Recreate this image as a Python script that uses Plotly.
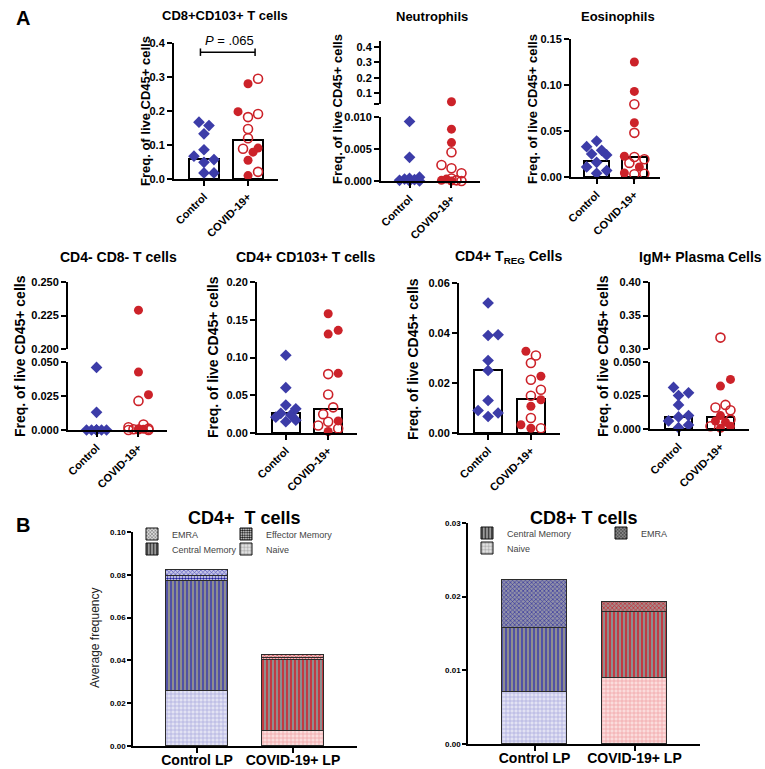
import math
import plotly.graph_objects as go

W, H = 765, 769
FONT = "Liberation Sans, Arial, Helvetica, sans-serif"
BLUE = "#3c3ca8"
RED = "#cc2229"

groups = ["Control", "COVID-19+"]
lp_groups = ["Control LP", "COVID-19+ LP"]

# ---------------- Panel A data (freq. of live CD45+ cells) ----------------
cd8cd103_control = [0.167, 0.157, 0.133, 0.086, 0.067, 0.057, 0.049, 0.018, 0.018]
cd8cd103_covid_filled = [0.280, 0.198, 0.091, 0.079, 0.055, 0.010]
cd8cd103_covid_open = [0.295, 0.191, 0.182, 0.147, 0.120, 0.089, 0.021]
cd8cd103_bars = [0.059, 0.116]

neut_control = [0.0093, 0.0037, 0.0006, 0.0004, 0.0003, 0.0002, 0.0001, 0.0, 0.0]
neut_covid_filled = [0.043, 0.0081, 0.0060, 0.0003, 0.0001, 0.0]
neut_covid_open = [0.0045, 0.0025, 0.0020, 0.0012, 0.0004, 0.0001, 0.0]

eos_control = [0.039, 0.033, 0.029, 0.025, 0.024, 0.016, 0.011, 0.007, 0.004]
eos_covid_filled = [0.125, 0.093, 0.059, 0.0225, 0.011, 0.0044]
eos_covid_open = [0.079, 0.048, 0.0218, 0.0193, 0.0153, 0.0036, 0.003]
eos_bars = [0.017, 0.0218]

dn_control = [0.046, 0.013, 0.0, 0.0, 0.0, 0.0, 0.0, 0.0, 0.0]
dn_covid_filled = [0.229, 0.0426, 0.0259, 0.001, 0.0005, 0.0]
dn_covid_open = [0.0214, 0.004, 0.002, 0.001, 0.0005, 0.0, 0.0]

cd4cd103_control = [0.103, 0.060, 0.037, 0.032, 0.026, 0.024, 0.021, 0.017, 0.015]
cd4cd103_covid_filled = [0.158, 0.136, 0.131, 0.079, 0.016, 0.002]
cd4cd103_covid_open = [0.078, 0.051, 0.034, 0.025, 0.015, 0.010, 0.006]
cd4cd103_bars = [0.026, 0.032]

treg_control = [0.052, 0.0393, 0.039, 0.029, 0.025, 0.013, 0.009, 0.008, 0.0066]
treg_covid_filled = [0.0327, 0.0227, 0.0133, 0.0107, 0.0033, 0.0019]
treg_covid_open = [0.031, 0.028, 0.0213, 0.0173, 0.0149, 0.006, 0.0019]
treg_bars = [0.0253, 0.0137]

igm_control = [0.031, 0.027, 0.025, 0.018, 0.010, 0.009, 0.006, 0.003, 0.001]
igm_covid_filled = [0.037, 0.032, 0.010, 0.006, 0.005, 0.002, 0.0005]
igm_covid_open = [0.317, 0.018, 0.016, 0.014, 0.007, 0.002]
igm_bars = [0.009, 0.009]

p_value_text = "<i>P</i> = .065"

# ---------------- Panel B data (average frequency) ----------------
cd4_subsets = ["Naive", "Central Memory", "Effector Memory", "EMRA"]
cd4_control = [0.0258, 0.0511, 0.0026, 0.0027]
cd4_covid = [0.0069, 0.0331, 0.00125, 0.00125]

cd8_subsets = ["Naive", "Central Memory", "EMRA"]
cd8_control = [0.0071, 0.0086, 0.0066]
cd8_covid = [0.0090, 0.0089, 0.0014]

# ---------------- helpers ----------------
fig = go.Figure()
layout = {}
annotations = []
shapes = []
_count = [0]


def new_axes():
    _count[0] += 1
    return _count[0]


def xname(n):
    return "xaxis" if n == 1 else f"xaxis{n}"


def yname(n):
    return "yaxis" if n == 1 else f"yaxis{n}"


def xref(n):
    return "x" if n == 1 else f"x{n}"


def yref(n):
    return "y" if n == 1 else f"y{n}"


def dom_x(a, b):
    return [a / W, b / W]


def dom_y(top, bot):
    return [1 - bot / H, 1 - top / H]


def bold(size):
    return dict(family=FONT, size=size, color="black", weight="bold")


def swarm(vals, ppu, diam=9.0, step=5.0, max_px=10.0):
    order = sorted(range(len(vals)), key=lambda i: vals[i])
    cands = [0.0]
    k = 1
    while k * step <= max_px + 1e-9:
        cands += [k * step, -k * step]
        k += 1
    placed, offs = [], [0.0] * len(vals)
    for i in order:
        y = vals[i] * ppu
        chosen, best_x, best_d = None, 0.0, -1.0
        for c in cands:
            d = min((math.hypot(c - px, y - py) for px, py in placed), default=1e9)
            if d >= diam:
                chosen = c
                break
            if d > best_d:
                best_d, best_x = d, c
        if chosen is None:
            chosen = best_x
        placed.append((chosen, y))
        offs[i] = chosen
    return offs


def ann(text, px, py, size, angle=0, b=True, color="black", xanchor="center"):
    annotations.append(dict(
        text=(f"<b>{text}</b>" if b else text), x=px / W, y=1 - py / H,
        xref="paper", yref="paper", showarrow=False, textangle=angle,
        xanchor=xanchor, yanchor="middle",
        font=dict(family=FONT, size=size, color=color)))


AX = dict(showline=True, linecolor="black", linewidth=2, ticks="outside",
          ticklen=5, tickwidth=2, tickcolor="black", showgrid=False,
          zeroline=False, automargin=False, fixedrange=True)

MARK = {
    "c": dict(symbol="diamond", size=9, color=BLUE, line=dict(width=0)),
    "f": dict(symbol="circle", size=9, color=RED, line=dict(width=0)),
    "o": dict(symbol="circle-open", size=9, color=RED, line=dict(width=1.6)),
}

XR = [-0.68, 1.68]

panels = [
    dict(title="CD8+CD103+ T cells", ctrl=cd8cd103_control, filled=cd8cd103_covid_filled,
         opn=cd8cd103_covid_open, bars=cd8cd103_bars, x=(174, 278),
         low=(43, 179, 0, 0.4, 0.1, ".1f"), up=None, title_xy=(225, 15), ylab_xy=(146, 111),
         tfs=13, yfs=13),
    dict(title="Neutrophils", ctrl=neut_control, filled=neut_covid_filled,
         opn=neut_covid_open, bars=None, x=(381, 480),
         low=(117, 181, 0, 0.010, 0.005, ".3f"),
         up=(41, 104, 0.028, 0.44, [0.028, 0.1, 0.2, 0.3, 0.4], ["", "0.1", "0.2", "0.3", "0.4"]),
         title_xy=(432, 17), ylab_xy=(337, 109), tfs=13, yfs=13),
    dict(title="Eosinophils", ctrl=eos_control, filled=eos_covid_filled,
         opn=eos_covid_open, bars=eos_bars, x=(571, 660),
         low=(39, 177, 0, 0.15, 0.05, ".2f"), up=None, title_xy=(618, 17), ylab_xy=(532, 109),
         tfs=13, yfs=13),
    dict(title="CD4- CD8- T cells", ctrl=dn_control, filled=dn_covid_filled,
         opn=dn_covid_open, bars=None, x=(68, 167),
         low=(362, 430, 0, 0.05, 0.025, ".3f"),
         up=(282, 349, 0.2, 0.25, [0.2, 0.225, 0.25], ["0.200", "0.225", "0.250"]),
         title_xy=(118, 257), ylab_xy=(20, 356), tfs=14, yfs=14),
    dict(title="CD4+ CD103+ T cells", ctrl=cd4cd103_control, filled=cd4cd103_covid_filled,
         opn=cd4cd103_covid_open, bars=cd4cd103_bars, x=(257, 357),
         low=(282, 433, 0, 0.2, 0.05, ".2f"), up=None, title_xy=(306, 257), ylab_xy=(213, 357),
         tfs=14, yfs=14),
    dict(title="CD4+ T<sub>REG</sub> Cells", ctrl=treg_control, filled=treg_covid_filled,
         opn=treg_covid_open, bars=treg_bars, x=(459, 560),
         low=(283, 433, 0, 0.06, 0.02, ".2f"), up=None, title_xy=(508, 257), ylab_xy=(413, 359),
         tfs=14, yfs=14),
    dict(title="IgM+ Plasma Cells", ctrl=igm_control, filled=igm_covid_filled,
         opn=igm_covid_open, bars=igm_bars, x=(650, 749),
         low=(362, 429, 0, 0.05, 0.025, ".3f"),
         up=(282, 349, 0.3, 0.4, [0.3, 0.35, 0.4], ["0.30", "0.35", "0.40"]),
         title_xy=(700, 257), ylab_xy=(603, 356), tfs=14, yfs=14),
]

first_panel_axes = None
for p in panels:
    x0, x1 = p["x"]
    pxcat = (x1 - x0) / (XR[1] - XR[0])
    yt, yb, lo, hi, dt, fmt = p["low"]
    nl = new_axes()
    if first_panel_axes is None:
        first_panel_axes = nl
    layout[xname(nl)] = dict(domain=dom_x(x0, x1), range=XR, anchor=yref(nl),
                             tickvals=[0, 1], ticktext=groups, tickangle=-45,
                             tickfont=bold(11), **AX)
    layout[yname(nl)] = dict(domain=dom_y(yt, yb), range=[lo, hi], dtick=dt, tick0=0,
                             tickformat=fmt, anchor=xref(nl), tickfont=bold(11), **AX)
    segs = [(nl, (yb - yt) / (hi - lo))]
    if p["up"]:
        ut, ub, ulo, uhi, tv, tt = p["up"]
        nu = new_axes()
        layout[xname(nu)] = dict(domain=dom_x(x0, x1), range=XR, anchor=yref(nu),
                                 visible=False, fixedrange=True)
        layout[yname(nu)] = dict(domain=dom_y(ut, ub), range=[ulo, uhi], tickvals=tv,
                                 ticktext=tt, anchor=xref(nu), tickfont=bold(11), **AX)
        segs.append((nu, (ub - ut) / (uhi - ulo)))

    if p["bars"]:
        fig.add_trace(go.Bar(x=[0, 1], y=p["bars"], width=0.66,
                             marker=dict(color="white", line=dict(color="black", width=2)),
                             xaxis=xref(nl), yaxis=yref(nl), showlegend=False,
                             hoverinfo="skip"))

    point_groups = [
        (0, p["ctrl"], ["c"] * len(p["ctrl"])),
        (1, p["filled"] + p["opn"], ["f"] * len(p["filled"]) + ["o"] * len(p["opn"])),
    ]
    for gi, vals, kinds in point_groups:
        for si, (n, ppu) in enumerate(segs):
            idx = [i for i, v in enumerate(vals)
                   if (si == 1) == (len(segs) > 1 and v > hi)]
            if not idx:
                continue
            sv = [vals[i] for i in idx]
            offs = swarm(sv, ppu)
            for kind in ["c", "o", "f"]:
                sel = [j for j, i in enumerate(idx) if kinds[i] == kind]
                if not sel:
                    continue
                fig.add_trace(go.Scatter(
                    x=[gi + offs[j] / pxcat for j in sel], y=[sv[j] for j in sel],
                    mode="markers", marker=MARK[kind], cliponaxis=False,
                    xaxis=xref(n), yaxis=yref(n), showlegend=False, hoverinfo="skip"))

    ann(p["title"], p["title_xy"][0], p["title_xy"][1], p["tfs"])
    ann("Freq. of live CD45+ cells", p["ylab_xy"][0], p["ylab_xy"][1], p["yfs"], angle=-90)

# significance bracket on first panel
n1 = first_panel_axes
br_y, br_h = 0.373, 0.011
shapes.append(dict(type="line", xref=xref(n1), yref=yref(n1), x0=-0.08, x1=1.16,
                   y0=br_y, y1=br_y, line=dict(color="black", width=1.5)))
for bx in (-0.08, 1.16):
    shapes.append(dict(type="line", xref=xref(n1), yref=yref(n1), x0=bx, x1=bx,
                       y0=br_y - br_h, y1=br_y + br_h, line=dict(color="black", width=1.5)))
ann(p_value_text, 229, 41, 13, b=False)

# ---------------- Panel B ----------------
# per subset: (shape, size, solidity, (fg control, fg covid), (bg control, bg covid), legend fg, legend bg)
PAT = {
    "Naive": ("+", 4, 0.3, ("#a6a6dc", "#ef9ca0"), ("#e2e2f3", "#fbdcdc"), "#8c8c8c", "#e4e4e4"),
    "Central Memory": ("|", 4, 0.45, ("#4a4aa8", "#c8303a"), ("#8e8e8e", "#8e8e8e"), "#3a3a3a", "#9a9a9a"),
    "Effector Memory": (".", 3, 0.6, ("#1e1e9c", "#c8202a"), ("#ffffff", "#ffffff"), "#111111", "#ffffff"),
    "EMRA": ("x", 3, 0.35, ("#4848b8", "#c03038"), ("#c4c4e6", "#eebcbc"), "#555555", "#dddddd"),
    "EMRA8": ("x", 3, 0.4, ("#3838a0", "#c42630"), ("#9090a8", "#a88888"), "#333333", "#8a8a8a"),
}
OUTLINE = dict(color="#2b2b2b", width=1.5)


def stacked(box, xrange_, yrange_, dtick, subsets, ctrl, covid, emra_key, title, title_xy):
    x0, x1, yt, yb = box
    n = new_axes()
    layout[xname(n)] = dict(domain=dom_x(x0, x1), range=xrange_, anchor=yref(n),
                            tickvals=[0, 1], ticktext=lp_groups, tickfont=bold(14),
                            ticklabelstandoff=-5,
                            **{**AX, "linewidth": 1.5, "tickwidth": 1.5})
    layout[yname(n)] = dict(domain=dom_y(yt, yb), range=yrange_, dtick=dtick, tick0=0,
                            tickformat=".2f", anchor=xref(n), tickfont=bold(8),
                            **{**AX, "linewidth": 1.5, "tickwidth": 1.5, "ticklen": 4})
    for i, s in enumerate(subsets):
        shp, size, sol, fgs, bgs, _, _ = PAT[emra_key if s == "EMRA" else s]
        for gi, vals in enumerate((ctrl, covid)):
            fig.add_trace(go.Bar(
                x=[gi], y=[vals[i]], width=0.65, name=s,
                marker=dict(color=bgs[gi], line=OUTLINE,
                            pattern=dict(shape=shp, size=size, solidity=sol,
                                         fgcolor=fgs[gi], bgcolor=bgs[gi], fillmode="replace")),
                xaxis=xref(n), yaxis=yref(n), showlegend=False, hoverinfo="skip"))
    ann(title, title_xy[0], title_xy[1], 18)
    return n


n_cd4 = stacked((133, 357, 532, 746), [-0.667, 1.667], [0, 0.1], 0.02,
                cd4_subsets, cd4_control, cd4_covid, "EMRA", "CD4+  T cells", (245, 518))
n_cd8 = stacked((468, 700, 523, 744), [-0.665, 1.655], [0, 0.03], 0.01,
                cd8_subsets, cd8_control, cd8_covid, "EMRA8", "CD8+ T cells", (584, 518))
layout["barmode"] = "stack"

ann("Average frequency", 95, 638, 12, angle=-90, b=False, color="#222")

# legends: one per entry so each can sit where the original has it
legend_items = [
    ("EMRA", "EMRA", n_cd4, 152, 534),
    ("Central Memory", "Central Memory", n_cd4, 152, 549),
    ("Effector Memory", "Effector Memory", n_cd4, 246, 534),
    ("Naive", "Naive", n_cd4, 246, 549),
    ("Central Memory", "Central Memory", n_cd8, 487, 533),
    ("Naive", "Naive", n_cd8, 487, 548),
    ("EMRA", "EMRA8", n_cd8, 621, 533),
]
for k, (label, key, n, lx, ly) in enumerate(legend_items):
    lname = "legend" if k == 0 else f"legend{k + 1}"
    shp, size, sol, _, _, lfg, lbg = PAT[key]
    fig.add_trace(go.Bar(
        x=[None], y=[None], name=label, legend=lname,
        marker=dict(color=lbg, line=dict(color="#111", width=1),
                    pattern=dict(shape=shp, size=size, solidity=sol,
                                 fgcolor=lfg, bgcolor=lbg, fillmode="replace")),
        xaxis=xref(n), yaxis=yref(n), showlegend=True, hoverinfo="skip"))
    layout[lname] = dict(x=(lx - 20) / W, y=1 - ly / H, xanchor="left", yanchor="middle",
                         bgcolor="rgba(0,0,0,0)", borderwidth=0, traceorder="normal",
                         font=dict(family=FONT, size=9, color="#444"), itemclick=False,
                         itemdoubleclick=False)

ann("A", 23, 18, 20)
ann("B", 23, 525, 20)

fig.update_layout(**layout)
fig.update_layout(width=W, height=H, autosize=False, margin=dict(l=0, r=0, t=0, b=0),
                  paper_bgcolor="white", plot_bgcolor="rgba(0,0,0,0)",
                  annotations=annotations, shapes=shapes, bargap=0,
                  font=dict(family=FONT, color="black"))
fig.write_html("out.html", config={"displayModeBar": False},
               post_script="document.body.style.margin='0';"
                           "document.documentElement.style.overflow='hidden';")
